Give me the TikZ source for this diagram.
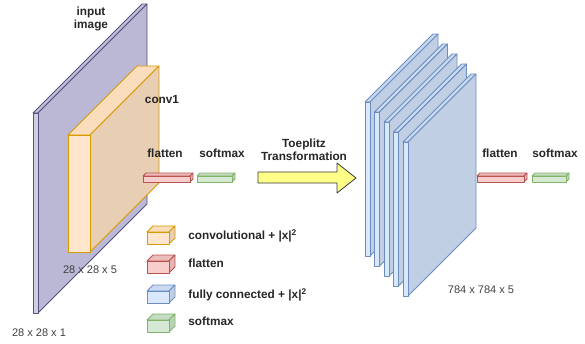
\documentclass[tikz,border=0pt]{standalone}
\usepackage{fontspec}
\setmainfont{Liberation Sans}
\usetikzlibrary{positioning}

\definecolor{inpF}{HTML}{D0CEE2}\definecolor{inpT}{HTML}{C3C0DC}
\definecolor{inpS}{HTML}{BAB8D5}\definecolor{inpD}{HTML}{56517E}
\definecolor{convF}{HTML}{FFE6CC}\definecolor{convT}{HTML}{F9DDBD}
\definecolor{convS}{HTML}{E8CFB4}\definecolor{convD}{HTML}{D79B00}
\definecolor{flatF}{HTML}{F8CECC}\definecolor{flatT}{HTML}{EDBDBB}
\definecolor{flatS}{HTML}{E3B5B3}\definecolor{flatD}{HTML}{B85450}
\definecolor{fcF}{HTML}{DAE8FC}\definecolor{fcT}{HTML}{C9DAF2}
\definecolor{fcS}{HTML}{C1CFE4}\definecolor{fcD}{HTML}{6C8EBF}
\definecolor{softF}{HTML}{D5E8D4}\definecolor{softT}{HTML}{C4DCC2}
\definecolor{softS}{HTML}{BBD3B9}\definecolor{softD}{HTML}{82B366}
\definecolor{arrF}{HTML}{FFFF88}\definecolor{arrD}{HTML}{36393D}

% box: x, y (top left of front face), width, height, depth, colour
\newcommand{\cuboid}[6]{%
  \filldraw[draw=#6D,fill=#6T] (#1,#2) -- ++(#5,-#5) -- ++(#3,0) -- ++(-#5,#5) -- cycle;
  \filldraw[draw=#6D,fill=#6S] (#1,#2) ++(#3,0) -- ++(#5,-#5) -- ++(0,#4) -- ++(-#5,#5) -- cycle;
  \filldraw[draw=#6D,fill=#6F] (#1,#2) rectangle ++(#3,#4);
}

\begin{document}
\begin{tikzpicture}[x=1pt, y=-1pt, line width=0.8pt, line join=round,
  lbl/.style={font=\fontsize{11.8}{13}\selectfont\bfseries, text=black!85, inner sep=0pt},
  dim/.style={font=\fontsize{11}{13}\selectfont, text=black!75, inner sep=0pt},
  key/.style={lbl, anchor=west}]
\useasboundingbox (0,0) rectangle (585,343);

% left network
\cuboid{33}{113}{5}{200}{109}{inp}
\cuboid{68}{135}{22}{117}{69}{conv}
\cuboid{143}{176}{47}{6}{3}{flat}
\cuboid{197}{176}{35}{6}{3}{soft}

% toeplitz arrow
\filldraw[draw=arrD, fill=arrF] (258,172) -- (337,172) -- (337,163) -- (356,178)
  -- (337,193) -- (337,183) -- (258,183) -- cycle;

% right network
\foreach \i in {0,...,4}{
  \cuboid{365+9.5*\i}{102+10*\i}{5}{154}{68}{fc}
}
\cuboid{477}{176}{47}{6}{3}{flat}
\cuboid{532}{176}{34}{6}{3}{soft}

% legend
\cuboid{147}{232}{22}{12}{6}{conv}
\cuboid{147}{261}{22}{12}{6}{flat}
\cuboid{147}{291}{22}{12}{6}{fc}
\cuboid{147}{320}{22}{12}{6}{soft}

\begin{scope}[every node/.style={lbl}]
\node[align=center] (inp) at (91,19) {input\\image};
\node (conv1) at (162,99) {conv1};
\node (flatL) at (165,153) {flatten};
\node (softL) at (222,153) {softmax};
\node[align=center] (toep) at (304,150) {Toeplitz\\Transformation};
\node (flatR) at (500,153) {flatten};
\node (softR) at (555,153) {softmax};
\end{scope}

\node[dim] (dimconv) at (90,270) {28 x 28 x 5};
\node[dim] (diminp) at (39,333) {28 x 28 x 1};
\node[dim] (dimfc) at (481,290) {784 x 784 x 5};

\node[key] (kconv) at (188,236) {convolutional + |x|\textsuperscript{2}};
\node[key] (kflat) at (188,263) {flatten};
\node[key] (kfc) at (188,295) {fully connected + |x|\textsuperscript{2}};
\node[key] (ksoft) at (188,321) {softmax};
\end{tikzpicture}
\end{document}
